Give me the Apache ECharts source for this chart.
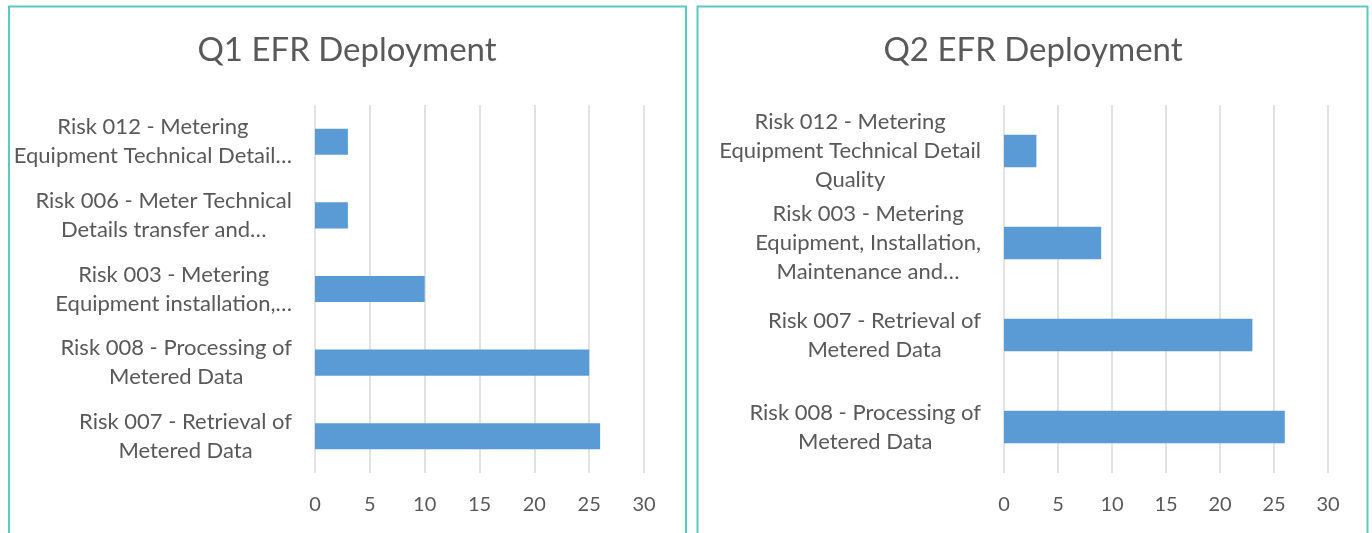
<!DOCTYPE html>
<html>
<head>
<meta charset="utf-8">
<script src="https://cdn.jsdelivr.net/npm/echarts@6/dist/echarts.min.js"></script>
<style>
  html, body { margin: 0; padding: 0; background: #ffffff; }
  #chart { width: 1372px; height: 533px; }
</style>
</head>
<body>
<div id="chart"></div>
<script>
// ---- data ----
const q1Title = 'Q1 EFR Deployment';
const q1Categories = [
  'Risk 012 - Metering\nEquipment Technical Detail…',
  'Risk 006 - Meter Technical\nDetails transfer and…',
  'Risk 003 - Metering\nEquipment installation,…',
  'Risk 008 - Processing of\nMetered Data',
  'Risk 007 - Retrieval of\nMetered Data'
];
const q1Values = [3, 3, 10, 25, 26];

const q2Title = 'Q2 EFR Deployment';
const q2Categories = [
  'Risk 012 - Metering\nEquipment Technical Detail\nQuality',
  'Risk 003 - Metering\nEquipment, Installation,\nMaintenance and…',
  'Risk 007 - Retrieval of\nMetered Data',
  'Risk 008 - Processing of\nMetered Data'
];
const q2Values = [3, 9, 23, 26];

const axisMin = 0;
const axisMax = 30;
const axisStep = 5;

// ---- styling ----
const FONT = 'Lato';
const TEXT = '#595959';
const GRID = '#D9D9D9';
const BAR = '#5B9BD5';
const BORDER = '#5BC9C2';

function catLabel(v) {
  return v.split('\n').map(l => '{c|' + l + '}').join('\n');
}

function yAxis(idx, cats) {
  return {
    type: 'category', gridIndex: idx, data: cats, inverse: true,
    axisLine: { show: false }, axisTick: { show: false },
    axisLabel: {
      margin: 23, align: 'right', formatter: catLabel,
      rich: { c: { align: 'center', fontFamily: FONT, fontSize: 22, lineHeight: 29, color: TEXT } }
    }
  };
}
function xAxis(idx) {
  return {
    type: 'value', gridIndex: idx, min: axisMin, max: axisMax, interval: axisStep,
    axisLine: { show: false }, axisTick: { show: false },
    splitLine: { show: true, lineStyle: { color: GRID, width: 1.5 } },
    axisLabel: { margin: 22, fontFamily: FONT, fontSize: 20, color: TEXT }
  };
}

const chart = echarts.init(document.getElementById('chart'), null, { renderer: 'canvas' });
chart.setOption({
  animation: false,
  backgroundColor: '#ffffff',
  title: [
    { text: q1Title, left: 347, top: 50, textAlign: 'center', textVerticalAlign: 'middle', padding: 0,
      textStyle: { fontFamily: FONT, fontSize: 33, fontWeight: 'normal', color: TEXT } },
    { text: q2Title, left: 1033, top: 50, textAlign: 'center', textVerticalAlign: 'middle', padding: 0,
      textStyle: { fontFamily: FONT, fontSize: 33, fontWeight: 'normal', color: TEXT } }
  ],
  grid: [
    { left: 315, right: 728, top: 105, bottom: 60, containLabel: false },
    { left: 1004, right: 44, top: 105, bottom: 60, containLabel: false }
  ],
  xAxis: [xAxis(0), xAxis(1)],
  yAxis: [yAxis(0, q1Categories), yAxis(1, q2Categories)],
  series: [
    { type: 'bar', xAxisIndex: 0, yAxisIndex: 0, data: q1Values, barWidth: '35.5%',
      itemStyle: { color: BAR } },
    { type: 'bar', xAxisIndex: 1, yAxisIndex: 1, data: q2Values, barWidth: '35.5%',
      itemStyle: { color: BAR } }
  ],
  graphic: [
    { type: 'rect', shape: { x: 9, y: 6.5, width: 677, height: 560 },
      style: { fill: null, stroke: BORDER, lineWidth: 2 }, silent: true },
    { type: 'rect', shape: { x: 697.5, y: 6.5, width: 670, height: 560 },
      style: { fill: null, stroke: BORDER, lineWidth: 2 }, silent: true }
  ]
});
</script>
</body>
</html>
